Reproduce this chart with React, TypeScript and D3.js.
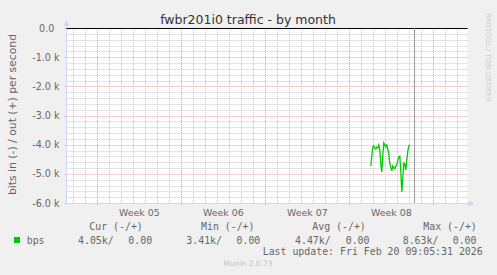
import React from "react";
import * as d3 from "d3";

const W = 497;
const H = 275;

// Y axis ticks (bits per second)
const yTickValues = [0, -1000, -2000, -3000, -4000, -5000, -6000];
const yTickLabels = ["0.0", "-1.0 k", "-2.0 k", "-3.0 k", "-4.0 k", "-5.0 k", "-6.0 k"];

// Week labels (ISO week start dates) on the time axis
const weekStarts = ["2026-01-26", "2026-02-02", "2026-02-09", "2026-02-16"];
const weekLabels = ["Week 05", "Week 06", "Week 07", "Week 08"];

// Time window shown
const domainStart = "2026-01-23T11:24:00Z";
const domainEnd = "2026-02-25T19:24:00Z";
const nowMark = "2026-02-21T10:00:00Z";

// Series: "in" traffic (plotted negative), 2-hour averages, bits/s
const seriesStart = "2026-02-17T19:00:00Z";
const seriesStepHours = 2;
const bpsIn = [
  4730, 4390, 4080, 4050, 4110, 4150, 4080, 4110, 4010, 4180,
  4660, 4940, 4370, 3940, 4010, 4080, 4010, 4150, 4320, 4630,
  4770, 4900, 4730, 4800, 4830, 4730, 4700, 4530, 4420, 4390,
  4940, 5620, 5140, 4630, 4660, 4870, 4530, 4220, 4050, 4010,
];

// Legend
const legendHeaders = ["Cur (-/+)", "Min (-/+)", "Avg (-/+)", "Max (-/+)"];
const legendValues = ["4.05k/", "3.41k/", "4.47k/", "8.63k/"];
const legendOut = ["0.00", "0.00", "0.00", "0.00"];
const seriesName = "bps";
const lastUpdate = "Last update: Fri Feb 20 09:05:31 2026";

export default function App() {
  const left = 66.5;
  const right = 467.5;
  const top = 28;
  const bottom = 203;

  const x = d3
    .scaleUtc()
    .domain([new Date(domainStart), new Date(domainEnd)])
    .range([67, 467]);
  const y = d3.scaleLinear().domain([-6000, 0]).range([bottom, top]);

  const t0 = new Date(domainStart);
  const t1 = new Date(domainEnd);
  const days = d3.utcDay.range(d3.utcDay.ceil(t0), t1);
  const weeks = d3.utcMonday.range(d3.utcMonday.ceil(t0), t1);
  const minorY = d3.range(-6000, 1, 200).filter((v) => v % 1000 !== 0);

  const s0 = new Date(seriesStart).getTime();
  const pts: [Date, number][] = bpsIn.map((v, i) => [
    new Date(s0 + i * seriesStepHours * 3600 * 1000),
    -v,
  ]);
  const line = d3
    .line<[Date, number]>()
    .x((d) => x(d[0]))
    .y((d) => y(d[1]));

  const mono = "'DejaVu Sans Mono', monospace";
  const sans = "'DejaVu Sans', sans-serif";
  const fontCol = "#666666";

  const headerX = [89.3, 201, 312.3, 423.3];
  const valX = [78, 186.3, 295, 402.7];
  const outX = [128.3, 236.5, 345.7, 452.7];

  return (
    <svg
      width={W}
      height={H}
      style={{ position: "absolute", left: 0, top: 0 }}
      xmlns="http://www.w3.org/2000/svg"
    >
      <rect x={0} y={0} width={W} height={H} fill="#F0F0F0" />
      <rect x={left} y={top} width={right - left} height={bottom - top} fill="#FFFFFF" />

      {/* minor grid */}
      {days.map((d, i) => (
        <line
          key={"dv" + i}
          x1={Math.round(x(d)) + 0.5}
          x2={Math.round(x(d)) + 0.5}
          y1={top}
          y2={bottom}
          stroke="#c8c8c8"
          strokeDasharray="1,1"
          strokeWidth={1}
        />
      ))}
      {minorY.map((v, i) => (
        <line
          key={"mh" + i}
          x1={left}
          x2={right}
          y1={Math.round(y(v)) + 0.5}
          y2={Math.round(y(v)) + 0.5}
          stroke="#c8c8c8"
          strokeDasharray="1,1"
          strokeWidth={1}
        />
      ))}
      {/* major grid */}
      {weeks.map((d, i) => (
        <line
          key={"wv" + i}
          x1={Math.round(x(d)) + 0.5}
          x2={Math.round(x(d)) + 0.5}
          y1={top}
          y2={bottom + 3}
          stroke="#e8a0a0"
          strokeDasharray="1,1"
          strokeWidth={1}
        />
      ))}
      {yTickValues.map((v, i) => (
        <line
          key={"yh" + i}
          x1={left - 2}
          x2={right}
          y1={Math.round(y(v)) + 0.5}
          y2={Math.round(y(v)) + 0.5}
          stroke="#e8a0a0"
          strokeDasharray="1,1"
          strokeWidth={1}
        />
      ))}

      {/* axes */}
      <line x1={left} x2={left} y1={bottom + 0.5} y2={top - 4} stroke="#CFD6F8" strokeWidth={1} />
      <path d={`M${left - 3},${top - 2} L${left},${top - 8} L${left + 3},${top - 2} Z`} fill="#CFD6F8" />
      <line x1={left} x2={right + 2} y1={bottom + 0.5} y2={bottom + 0.5} stroke="#CFD6F8" strokeWidth={1} />
      <path
        d={`M${right + 1},${bottom + 0.5 - 3} L${right + 7},${bottom + 0.5} L${right + 1},${bottom + 0.5 + 3} Z`}
        fill="#CFD6F8"
      />

      {/* zero line */}
      <line x1={left} x2={right} y1={y(0) + 0.5} y2={y(0) + 0.5} stroke="#000000" strokeWidth={1} />

      {/* now marker */}
      <line
        x1={Math.round(x(new Date(nowMark))) + 0.5}
        x2={Math.round(x(new Date(nowMark))) + 0.5}
        y1={top}
        y2={bottom}
        stroke="#999999"
        strokeWidth={1}
      />

      {/* series */}
      <path d={line(pts) || ""} fill="none" stroke="#00CC00" strokeWidth={1.3} />

      {/* title */}
      <text x={248} y={23.5} textAnchor="middle" fontFamily={sans} fontSize={12.5} fill="#333333">
        fwbr201i0 traffic - by month
      </text>

      {/* y label */}
      <text
        transform={`translate(15.5,${114.5}) rotate(-90)`}
        textAnchor="middle"
        fontFamily={sans}
        fontSize={10.8}
        fill={fontCol}
      >
        bits in (-) / out (+) per second
      </text>

      {/* y tick labels */}
      {yTickValues.map((v, i) => (
        <text
          key={"yl" + i}
          x={yTickLabels[i].includes("k") ? 59.5 : 54.3}
          y={y(v) + 3.5}
          textAnchor="end"
          fontFamily={sans}
          fontSize={9.6}
          fill={fontCol}
        >
          {yTickLabels[i]}
        </text>
      ))}

      {/* week labels */}
      {weekStarts.map((s, i) => {
        const a = new Date(s + "T00:00:00Z");
        const b = d3.utcDay.offset(a, 7);
        return (
          <text
            key={"wl" + i}
            x={(x(a) + x(b)) / 2}
            y={216}
            textAnchor="middle"
            fontFamily={sans}
            fontSize={9.4}
            fill={fontCol}
          >
            {weekLabels[i]}
          </text>
        );
      })}

      {/* legend */}
      {legendHeaders.map((h, i) => (
        <text key={"lh" + i} x={headerX[i]} y={230} fontFamily={mono} fontSize={9.9} fill={fontCol}>
          {h}
        </text>
      ))}
      <rect x={14} y={237} width={6} height={6} fill="#00CC00" />
      <text x={26.7} y={243.5} fontFamily={mono} fontSize={9.9} fill={fontCol}>
        {seriesName}
      </text>
      {legendValues.map((v, i) => (
        <text key={"lv" + i} x={valX[i]} y={243.5} fontFamily={mono} fontSize={9.9} fill={fontCol}>
          {v}
        </text>
      ))}
      {legendOut.map((v, i) => (
        <text key={"lo" + i} x={outX[i]} y={243.5} fontFamily={mono} fontSize={9.9} fill={fontCol}>
          {v}
        </text>
      ))}
      <text x={482.7} y={255} textAnchor="end" fontFamily={mono} fontSize={9.9} fill={fontCol}>
        {lastUpdate}
      </text>

      <text x={248} y={266} textAnchor="middle" fontFamily={sans} fontSize={7.5} fill="#c4c4c4">
        Munin 2.0.73
      </text>
      <text
        transform="translate(485.5,13) rotate(90)"
        fontFamily={sans}
        fontSize={6.9}
        fill="#cccccc"
      >
        RRDTOOL / TOBI OETIKER
      </text>
    </svg>
  );
}
